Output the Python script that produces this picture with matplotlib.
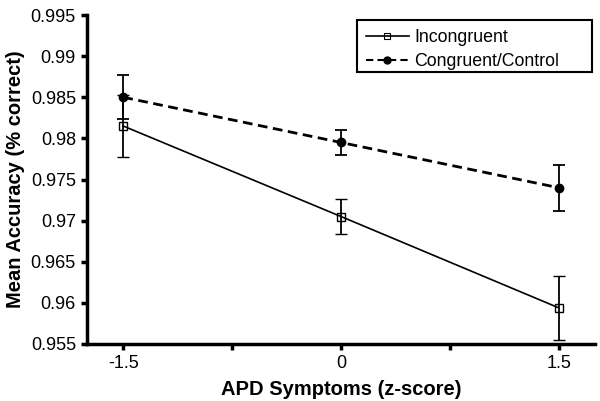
import matplotlib
matplotlib.use("Agg")
import matplotlib.pyplot as plt
from matplotlib.patches import Rectangle

x = [-1.5, 0, 1.5]
incongruent = [0.9815, 0.9705, 0.9594]
incongruent_err = [0.0038, 0.0021, 0.0039]
congruent = [0.9850, 0.9795, 0.9740]
congruent_err = [0.0027, 0.0015, 0.0028]
xticks = [-1.5, -0.75, 0, 0.75, 1.5]
xticklabels = ["-1.5", "", "0", "", "1.5"]
yticks = [0.955, 0.96, 0.965, 0.97, 0.975, 0.98, 0.985, 0.99, 0.995]
yticklabels = ["0.955", "0.96", "0.965", "0.97", "0.975", "0.98", "0.985", "0.99", "0.995"]

plt.rcParams['font.family'] = ['Liberation Sans', 'DejaVu Sans']

fig = plt.figure(figsize=(6.0, 4.01), dpi=100)
ax = fig.add_axes([87/600, 1 - 344/401, (595-87)/600, (344-15)/401])

e1 = ax.errorbar(x, incongruent, yerr=incongruent_err, color='black', lw=1.2,
                 marker='s', ms=6, mfc='none', mec='black', mew=1.0,
                 capsize=4, elinewidth=1.3, capthick=1.3)
e2 = ax.errorbar(x, congruent, yerr=congruent_err, color='black', lw=2.0, ls=(0, (3.5, 2)),
                 marker='o', ms=6, mfc='black', mec='black',
                 capsize=4, elinewidth=1.3, capthick=1.3)

ax.set_xlim(-1.75, 1.75)
ax.set_ylim(0.955, 0.995)
ax.set_xticks(xticks)
ax.set_xticklabels(xticklabels)
ax.set_yticks(yticks)
ax.set_yticklabels(yticklabels)
ax.spines['top'].set_visible(False)
ax.spines['right'].set_visible(False)
ax.spines['left'].set_linewidth(2.5)
ax.spines['bottom'].set_linewidth(2.5)
ax.tick_params(axis='both', direction='out', length=4, width=2.5, labelsize=13, pad=4)

ax.set_xlabel('APD Symptoms (z-score)', fontsize=14.5, fontweight='bold', labelpad=6)
ax.set_ylabel('Mean Accuracy (% correct)', fontsize=14.5, fontweight='bold', labelpad=4)

# legend frame
fig.patches.append(Rectangle((357/600, 1 - 72/401), 235/600, 52/401,
                             transform=fig.transFigure, fill=False,
                             edgecolor='black', lw=1.5, zorder=5))

h1 = plt.Line2D([], [], color='black', lw=1.2, marker='s', ms=4.5, mfc='none', mec='black', mew=0.8)
h2 = plt.Line2D([], [], color='black', lw=1.5, ls=(0, (3.5, 2)), marker='o', ms=5, mfc='black', mec='black')
leg = fig.legend([h1, h2], ['Incongruent', 'Congruent/Control'],
                 loc='upper left', bbox_to_anchor=(366/600, 1 - 29/401),
                 bbox_transform=fig.transFigure,
                 fontsize=12.8, frameon=False, handlelength=2.4, borderpad=0.0,
                 labelspacing=0.38, handletextpad=0.3, borderaxespad=0.0)

fig.savefig('out.png', dpi=100)
